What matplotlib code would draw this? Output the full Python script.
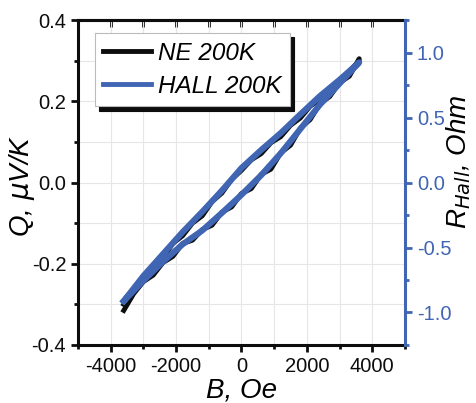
import numpy as np
import matplotlib.pyplot as plt
from matplotlib.ticker import MultipleLocator

plt.rcParams['font.family'] = ['Liberation Sans', 'DejaVu Sans']

# field grid for the Nernst loop (Oe)
B_ne = [-3600, -3300, -3000, -2700, -2400, -2100, -1800, -1500, -1200, -900, -600, -300, 0,
        300, 600, 900, 1200, 1500, 1800, 2100, 2400, 2700, 3000, 3300, 3600]
# Q, uV/K: sweep down (upper branch) and sweep up (lower branch)
Q_upper = [-0.300, -0.262, -0.242, -0.205, -0.186, -0.150, -0.131, -0.100, -0.082, -0.047, -0.026,
           0.008, 0.030, 0.056, 0.071, 0.098, 0.113, 0.141, 0.159, 0.188, 0.205, 0.232, 0.246, 0.274, 0.300]
Q_lower = [-0.315, -0.274, -0.244, -0.228, -0.197, -0.182, -0.150, -0.142, -0.116, -0.105, -0.073,
           -0.060, -0.027, -0.015, 0.020, 0.033, 0.073, 0.092, 0.134, 0.155, 0.194, 0.212, 0.246, 0.262, 0.305]

# Hall loop (Ohm)
B_hall = [-3600, -3000, -2400, -1800, -1200, -600, 0, 600, 1200, 1800, 2400, 3000, 3600]
R_upper = [-0.912, -0.719, -0.550, -0.381, -0.225, -0.062, 0.112, 0.250, 0.381, 0.525, 0.666, 0.791, 0.925]
R_lower = [-0.912, -0.756, -0.609, -0.475, -0.369, -0.234, -0.094, 0.056, 0.225, 0.412, 0.600, 0.762, 0.925]

black = '#0d0d0d'
blue = '#4065b3'

fig = plt.figure(figsize=(4.77, 4.03), dpi=100)
ax = fig.add_axes([0.1635, 0.144, 0.6855, 0.806])
ax2 = ax.twinx()

# loop: up sweep then down sweep
ax.plot(B_ne + B_ne[::-1], Q_lower + Q_upper[::-1], color=black, lw=3.5, solid_joinstyle='round')
ax2.plot(B_hall + B_hall[::-1], R_lower + R_upper[::-1], color=blue, lw=4.4, solid_joinstyle='round')

ax.set_xlim(-5000, 5000)
ax.set_ylim(-0.4, 0.4)
ax2.set_ylim(-1.25, 1.25)

ax.xaxis.set_major_locator(MultipleLocator(2000))
ax.xaxis.set_minor_locator(MultipleLocator(1000))
ax.yaxis.set_major_locator(MultipleLocator(0.2))
ax.yaxis.set_minor_locator(MultipleLocator(0.1))
ax2.yaxis.set_major_locator(MultipleLocator(0.5))
ax2.yaxis.set_minor_locator(MultipleLocator(0.25))

ax.grid(True, which='both', color='#e6e6e6', lw=0.8)
ax.set_axisbelow(True)

ax.set_xticks([-4000, -2000, 0, 2000, 4000])
ax.set_xticklabels(['-4000', '-2000', '0', '2000', '4000'])
ax.set_yticks([-0.4, -0.2, 0.0, 0.2, 0.4])
ax.set_yticklabels(['-0.4', '-0.2', '0.0', '0.2', '0.4'])
ax2.set_yticks([-1.0, -0.5, 0.0, 0.5, 1.0])
ax2.set_yticklabels(['-1.0', '-0.5', '0.0', '0.5', '1.0'])

ax.tick_params(axis='both', which='major', labelsize=14.5, width=2, length=5, direction='out', colors=black)
ax.tick_params(axis='both', which='minor', width=2, length=3, direction='out', colors=black)
ax2.tick_params(axis='y', which='major', labelsize=14.5, width=2, length=5, direction='out', colors=blue)
ax2.tick_params(axis='y', which='minor', width=2, length=3, direction='out', colors=blue)

# top ticks point inward
top = ax.secondary_xaxis('top')
top.xaxis.set_major_locator(MultipleLocator(1000))
top.tick_params(axis='x', direction='in', length=5, width=2, labeltop=False, colors=black)
top.spines['top'].set_linewidth(2.2)
top.spines['top'].set_color(black)

for s in ['left', 'bottom', 'top']:
    ax.spines[s].set_linewidth(2.2)
    ax.spines[s].set_color(black)
for s in ['left', 'bottom', 'top']:
    ax2.spines[s].set_visible(False)
ax2.spines['right'].set_linewidth(2.2)
ax2.spines['right'].set_color(blue)
ax.spines['right'].set_visible(False)

ax.set_xlabel('B, Oe', fontsize=20, style='italic', labelpad=1)
ax.set_ylabel(r'Q, $\mu$V/K', fontsize=20, style='italic')
ax2.set_ylabel(r'R$_{Hall}$, Ohm', fontsize=20, style='italic')
ax.yaxis.set_label_coords(-0.125, 0.49)
ax2.yaxis.set_label_coords(1.12, 0.565)

h1, = ax.plot([], [], color=black, lw=3.5)
h2, = ax.plot([], [], color=blue, lw=3.5)
leg = ax.legend([h1, h2], ['NE 200K', 'HALL 200K'], loc='upper left',
                bbox_to_anchor=(0.052, 0.96), prop={'size': 17.5, 'style': 'italic'},
                fancybox=False, handlelength=1.95, handletextpad=0.3, borderpad=0.35,
                labelspacing=0.42, borderaxespad=0.0,
                shadow={'color': black, 'alpha': 1.0, 'ox': 3, 'oy': -3})
leg.get_frame().set_edgecolor('#bbbbbb')
leg.get_frame().set_linewidth(0.8)
leg.get_frame().set_alpha(1)

fig.savefig('out.png', dpi=100)
